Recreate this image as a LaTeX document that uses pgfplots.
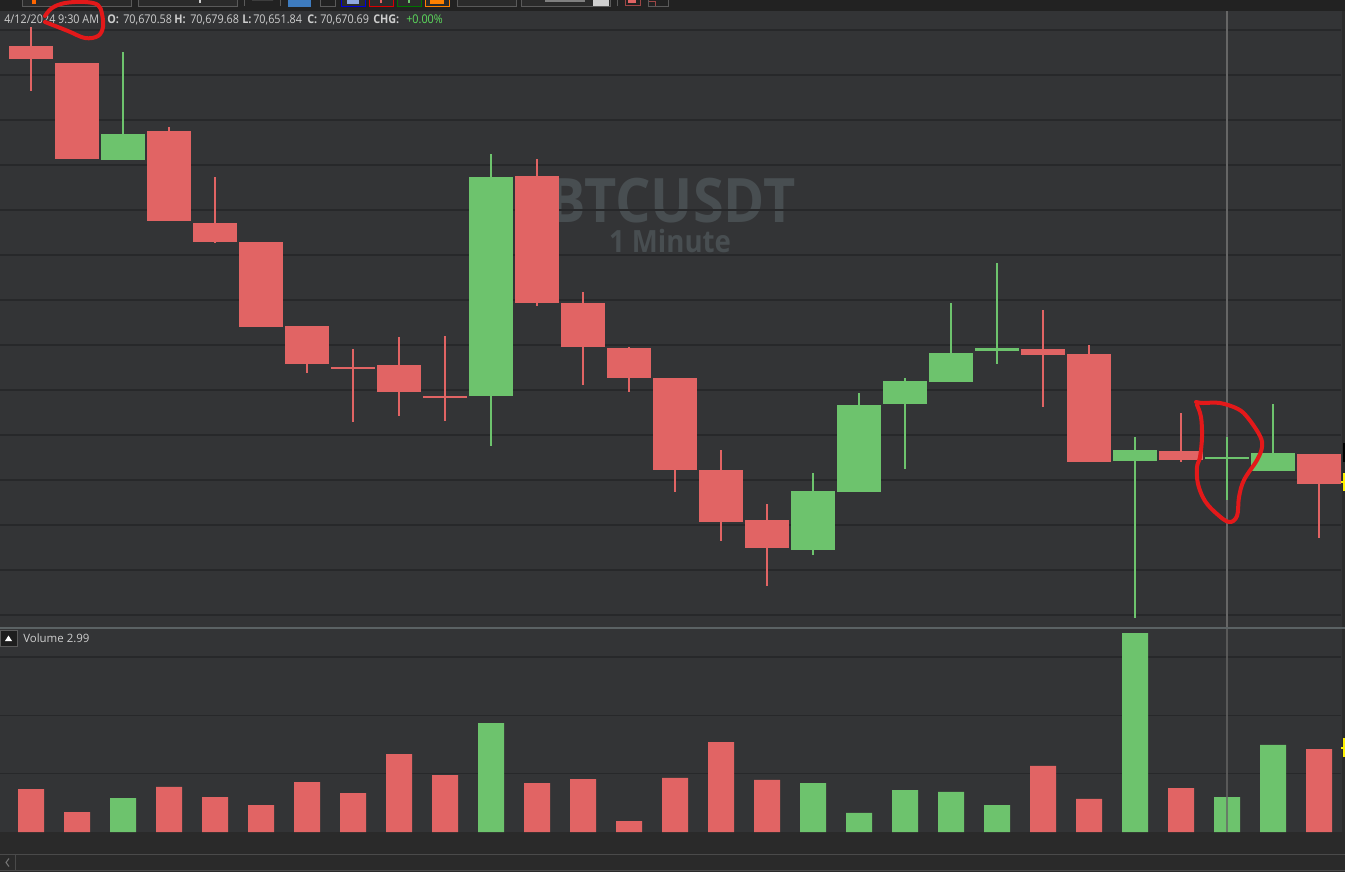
\documentclass[border=0pt]{standalone}
\usepackage{pgfplots}
\pgfplotsset{compat=1.18}
\usepackage{pgfplotstable}
\usepackage{fontspec}
\setmainfont{Open Sans}
\newfontfamily\hdr[FakeStretch=0.9]{Open Sans}

\definecolor{bgc}{HTML}{333436}
\definecolor{gridc}{HTML}{27282A}
\definecolor{cred}{HTML}{E16464}
\definecolor{cgreen}{HTML}{6DC36D}
\definecolor{wm}{HTML}{484E51}
\definecolor{txt}{HTML}{CDCDCD}
\definecolor{sepc}{HTML}{5B6264}
\definecolor{stripc}{HTML}{222222}
\definecolor{bottomc}{HTML}{2A2A2A}
\definecolor{scrc}{HTML}{4A4A4A}
\definecolor{ann}{HTML}{E3191A}
\definecolor{crossc}{HTML}{666666}
\definecolor{btnf}{HTML}{2B2B2B}
\definecolor{btnb}{HTML}{5A5A5A}
\definecolor{chgc}{HTML}{5CDB5C}
\definecolor{bluebtn}{HTML}{3E7CC0}
\definecolor{lightblue}{HTML}{8FA8E0}
\definecolor{lightsq}{HTML}{D0D0D0}
\definecolor{arrowc}{HTML}{777777}
\definecolor{edgec}{HTML}{2B2B2B}
\definecolor{boxc}{HTML}{1E1E1E}

% i = minute index, o h l c = price, v = volume
\pgfplotstableread{
i o h l c v
0 70852.9 70862.2 70833.8 70846.7 3.68
1 70846.7 70846.7 70803.6 70803.6 1.71
3 70815.1 70817.3 70775.1 70775.1 3.86
4 70775.1 70795.1 70766.2 70766.7 3.00
5 70766.7 70766.7 70728.9 70728.9 2.31
6 70728.9 70728.9 70708.0 70711.6 4.28
7 70711.6 70719.1 70686.7 70710.9 3.34
8 70710.7 70724.9 70689.8 70698.7 6.68
9 70698.7 70724.0 70686.2 70698.2 4.88
11 70795.6 70803.1 70737.8 70739.1 4.20
12 70739.1 70744.9 70703.6 70719.6 4.54
13 70719.6 70719.6 70699.6 70706.7 0.94
14 70706.7 70706.7 70655.6 70665.8 4.63
15 70665.8 70673.3 70632.9 70642.7 7.71
16 70642.7 70649.8 70613.3 70630.2 4.46
22 70719.6 70736.0 70692.9 70716.9 5.66
23 70716.9 70721.3 70669.3 70669.3 2.83
25 70674.2 70690.7 70668.9 70670.2 3.77
28 70672.0 70672.0 70634.7 70658.7 7.11
}\down

\pgfplotstableread{
i o h l c v
2 70803.6 70849.8 70803.6 70815.1 2.91
10 70698.7 70804.9 70674.7 70795.6 9.34
17 70630.2 70664.4 70628.0 70656.4 4.20
18 70656.4 70698.7 70655.6 70694.7 1.63
19 70694.7 70705.3 70664.9 70704.9 3.60
20 70704.9 70740.0 70704.9 70718.2 3.43
21 70718.4 70756.9 70711.6 70719.6 2.31
24 70669.3 70680.4 70600.0 70674.2 17.05
26 70670.58 70679.68 70651.84 70670.69 2.99
27 70664.0 70693.8 70664.0 70672.0 7.46
}\up

\pgfplotsset{
  hiddenaxis/.style={scale only axis, axis line style={draw=none}, tick style={draw=none},
    xtick=\empty, xticklabels={}, yticklabels={}, scaled y ticks=false,
    ymajorgrids, grid style={gridc, line width=1pt}},
  candle/.style 2 args={draw=none, mark=none, forget plot,
    error bars/.cd, y dir=both, y explicit, error mark=none,
    error bar style={draw=#1, line width=#2}}
}

\begin{document}
\begin{tikzpicture}
\begin{scope}[x=0.75pt,y=-0.75pt]
\fill[bgc] (0,0) rectangle (1345,872);
\fill[stripc] (0,0) rectangle (1345,11);
% toolbar (cut off)
\begin{scope}[line width=0.75pt]
\draw[btnb, fill=btnf] (22,-3) rectangle (131,6.5);
\fill[orange!80!red] (32,0) rectangle (36,4);
\draw[btnb, fill=btnf] (138,-3) rectangle (237,6.5);
\fill[txt] (199,0) rectangle (201,3);
\draw[btnb] (244,-1) -- (244,6);
\fill[white] (252,0) arc[start angle=180,end angle=360,radius=10.5] -- cycle;
\draw[btnb] (280,-1) -- (280,6);
\fill[bluebtn] (288,-3) rectangle (311,6.5);
\draw[btnb] (320,-3) rectangle (335,6.5);
\draw[blue!85!black, fill=btnf] (341,-3) rectangle (365,6.5);
\fill[lightblue] (347,0) rectangle (359,4);
\draw[red!85!black, fill=btnf] (369,-3) rectangle (393,6.5);
\fill[cred] (380,0) rectangle (382,3);
\draw[green!45!black, fill=btnf] (397,-3) rectangle (421,6.5);
\fill[cgreen] (408,0) rectangle (410,3);
\draw[orange, fill=btnf] (425,-3) rectangle (449,6.5);
\fill[orange] (430,0) rectangle (444,4);
\draw[btnb, fill=btnf] (457,-3) rectangle (516,6.5);
\draw[btnb, fill=btnf] (521,-3) rectangle (610,6.5);
\fill[gray] (545,0) rectangle (585,2);
\fill[lightsq] (593,-3) rectangle (609,6);
\draw[btnb] (617,-1) -- (617,6);
\draw[cred!70!black] (625,-3) rectangle (640,5);
\fill[cred] (628,0) rectangle (636,3);
\draw[cred!70!black] (648,1) rectangle (655,6);
\draw[btnb] (648,-3) rectangle (668,6.5);
\end{scope}
% bottom area with scrollbar
\fill[bottomc] (0,832) rectangle (1345,872);
\draw[scrc, line width=0.9pt] (0,854.5) -- (1345,854.5) (0,870.5) -- (1345,870.5) (15.5,854.5) -- (15.5,870.5);
\draw[arrowc, line width=0.8pt] (9,858.5) -- (6,862.5) -- (9,866.5);
% watermark
\node[font=\bfseries\fontsize{46}{46}\selectfont, text=wm, anchor=base, xscale=0.91, inner sep=0, text depth=0pt] at (672,222) {BTCUSDT};
\node[font=\bfseries\fontsize{23}{23}\selectfont, text=wm, anchor=base, xscale=0.9, inner sep=0, text height=17pt] at (670,252) {1 Minute};
\end{scope}

% price pane
\begin{axis}[hiddenaxis, at={(0pt,-470.25pt)}, anchor=south west,
  width=1005.75pt, height=462pt,
  xmin=-0.674, xmax=28.478, ymin=70594.67, ymax=70868.44,
  ytick={70600,70620,70640,70660,70680,70700,70720,70740,70760,70780,70800,70820,70840,70860}]
\draw[crossc, line width=1.2pt] (axis cs:26,70594.67) -- (axis cs:26,70868.44);
\addplot[candle={cred}{0.8pt}]
  table[x=i, y expr={(\thisrow{h}+\thisrow{l})/2}, y error expr={(\thisrow{h}-\thisrow{l})/2}] {\down};
\addplot[candle={cgreen}{0.8pt}]
  table[x=i, y expr={(\thisrow{h}+\thisrow{l})/2}, y error expr={(\thisrow{h}-\thisrow{l})/2}] {\up};
\addplot[candle={cred}{33pt}]
  table[x=i, y expr={(\thisrow{o}+\thisrow{c})/2}, y error expr={max(abs(\thisrow{o}-\thisrow{c})/2,0.3)}] {\down};
\addplot[candle={cgreen}{33pt}]
  table[x=i, y expr={(\thisrow{o}+\thisrow{c})/2}, y error expr={max(abs(\thisrow{o}-\thisrow{c})/2,0.3)}] {\up};
\end{axis}

% volume pane
\begin{axis}[hiddenaxis, at={(0pt,-624pt)}, anchor=south west,
  width=1005.75pt, height=153pt,
  xmin=-0.674, xmax=28.478, ymin=0, ymax=17.486, ytick={5,10,15}]
\addplot[ybar, bar width=19.5pt, bar shift=0pt, fill=cred, draw=none] table[x=i, y=v] {\down};
\addplot[ybar, bar width=19.5pt, bar shift=0pt, fill=cgreen, draw=none] table[x=i, y=v] {\up};
\draw[crossc, line width=1.2pt, opacity=0.75] (axis cs:26,0) -- (axis cs:26,17.486);
\end{axis}

\begin{scope}[x=0.75pt,y=-0.75pt]
% pane separator and right border
\fill[sepc] (0,626.5) rectangle (1345,628.5);
\fill[edgec] (1341.5,11) rectangle (1345,626.5);
\fill[edgec] (1341.5,628.5) rectangle (1345,832);
\fill[black] (1342.5,443) rectangle (1345,462);
\fill[yellow] (1343,473) rectangle (1345,491);
\fill[yellow] (1341,481) rectangle (1345,482.5);
\fill[yellow] (1343,738) rectangle (1345,757);
\fill[yellow] (1341,747) rectangle (1345,748.5);
% volume label
\draw[btnb, fill=boxc, line width=0.75pt] (0,630) rectangle (17,646);
\fill[white] (5,641) -- (12,641) -- (8.5,635.5) -- cycle;
\node[anchor=base west, inner sep=0, text=txt, font=\fontsize{8.6}{10}\selectfont] at (23,642) {Volume 2.99};
% header
\begin{scope}[every node/.style={anchor=base west, inner sep=0, text=txt, font=\hdr\fontsize{9}{10}\selectfont}]
\node at (4,23.5) {4/12/2024 9:30 AM};
\node at (107,23.5) {\textbf{O:}};
\node at (123,23.5) {70,670.58};
\node at (174,23.5) {\textbf{H:}};
\node at (190,23.5) {70,679.68};
\node at (242,23.5) {\textbf{L:}};
\node at (253,23.5) {70,651.84};
\node at (307,23.5) {\textbf{C:}};
\node at (320,23.5) {70,670.69};
\node at (373,23.5) {\textbf{CHG:}};
\node[text=chgc] at (406,23.5) {+0.00\%};
\end{scope}
% hand-drawn annotations
\draw[ann, line width=3pt, line cap=round, line join=round] plot[smooth, tension=0.6] coordinates {(45,16) (52,8) (65,3) (85,2) (98,5) (102,14) (103,27) (98,36) (85,38) (68,31) (45,22)};
\draw[ann, line width=3pt, line cap=round, line join=round] plot[smooth, tension=0.6] coordinates {(1196,402) (1203,403) (1220,403) (1238,409) (1248,418) (1260,436) (1262,447) (1257,460) (1244,480) (1239,497) (1237,516) (1229,522) (1217,514) (1205,501) (1198,484) (1197,467) (1200,457) (1202,437) (1201,417) (1197,405)};
\end{scope}
\pgfresetboundingbox
\path[use as bounding box] (0pt,0pt) rectangle (1008.75pt,-654pt);
\end{tikzpicture}
\end{document}
